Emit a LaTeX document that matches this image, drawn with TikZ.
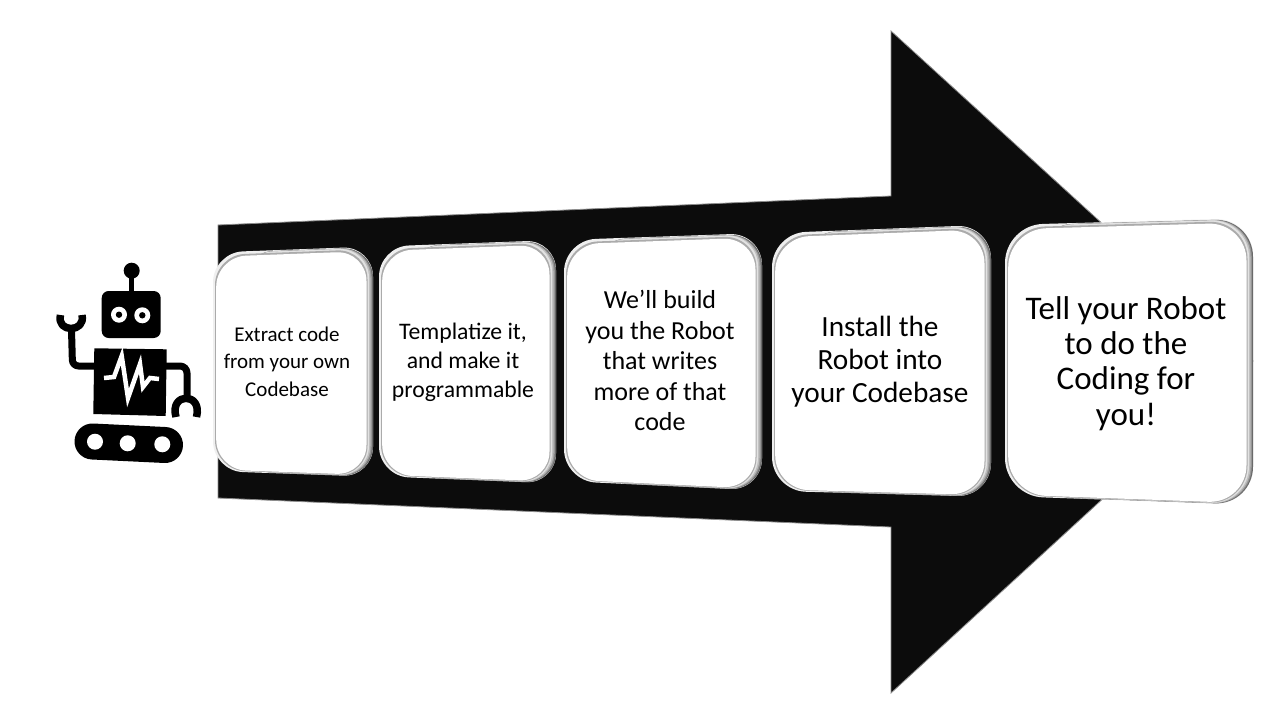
\documentclass[tikz,border=0pt]{standalone}
\usepackage{fontspec}
\setmainfont{Carlito}
\usetikzlibrary{calc}
\tikzset{
  cardtext/.style={align=center,text=black,inner sep=0pt},
  robotline/.style={draw=black,line width=7pt,line join=round},
  wheel/.style={circle,fill=white,inner sep=0pt,minimum size=16pt},
  eye/.style={circle,fill=white,draw=none,inner sep=0pt,minimum size=16pt}
}
\definecolor{arrowblack}{HTML}{0C0C0C}
% card: left x, right x, top-left y, top-right y, bottom-left y, bottom-right y, corner radius
\newcommand{\bevelcard}[7]{%
  \foreach \li/\ri/\ti/\bi/\cc in {0/0/0/0/EFEFEF, 30/0/0.8/0.3/6A6A6A, 30/1.2/1/0.5/969696, 30/2.5/1/0.6/BEBEBE, 30/4/1.2/0.7/E2E2E2, 2/5.5/2.6/0.9/ABABAB, 3.2/6.5/4.4/1.6/FFFFFF}{
    \definecolor{cardcol}{HTML}{\cc}
    \fill[cardcol,rounded corners=#7pt]
      ({#1+\li},{#3+(#4-#3)*\li/(#2-#1)+\ti}) -- ({#2-\ri},{#4-(#4-#3)*\ri/(#2-#1)+\ti}) -- ({#2-\ri},{#6-(#6-#5)*\ri/(#2-#1)-\bi}) -- ({#1+\li},{#5+(#6-#5)*\li/(#2-#1)-\bi}) -- cycle;
  }%
}
\begin{document}
\begin{tikzpicture}[x=1pt,y=-1pt]
\useasboundingbox (0,0) rectangle (1280,720);
\fill[white] (0,0) rectangle (1280,720);
% big arrow
\draw[fill=arrowblack,draw=black!45,line width=.8pt,line join=miter]
  (218,225) -- (891,196) -- (891,31) -- (1253,361) -- (891,693) -- (891,527) -- (218,498) -- cycle;
% cards
\bevelcard{213}{373}{252.5}{246.5}{471}{476.7}{30}
\bevelcard{379}{556}{246.6}{240}{476.2}{483.4}{30}
\bevelcard{564}{762}{240}{233}{481}{490.5}{32}
\bevelcard{772}{991}{233.2}{224.7}{490.8}{496.9}{34}
\bevelcard{1005}{1253}{225}{218}{496}{505}{38}
% texts
\node[cardtext,font=\fontsize{21}{27.5}\selectfont] (t1) at (287,361.5) {Extract code\\from your own\\Codebase};
\node[cardtext,font=\fontsize{23.7}{29}\selectfont] (t2) at (463,362) {Templatize it,\\and make it\\programmable};
\node[cardtext,font=\fontsize{26}{30.5}\selectfont] (t3) at (660,360.5) {We’ll build\\you the Robot\\that writes\\more of that\\code};
\node[cardtext,font=\fontsize{29.3}{33}\selectfont] (t4) at (880,362) {Install the\\Robot into\\your Codebase};
\node[cardtext,font=\fontsize{33}{35.3}\selectfont] (t5) at (1126,363.5) {Tell your Robot\\to do the\\Coding for\\you!};
% robot
\fill[black] (131.7,270.7) circle (8);
\draw[black,line width=4.5pt] (131.6,272) -- (131.6,295);
\fill[black,rounded corners=7pt] (101.7,291) rectangle (160.7,338);
\node[eye] (eyeL) at (119,314.7) {};
\node[eye] (eyeR) at (142.3,315.3) {};
\fill[black] (eyeL) circle (3.2);
\fill[black] (eyeR) circle (3.2);
\fill[black] (94.3,348.3) -- (166.7,349.3) -- (165.7,416) -- (93.3,414) -- cycle;
\draw[white,line width=4.5pt,line join=miter,miter limit=6] (104,378) -- (114,377) -- (121.7,356) -- (128,398) -- (140,364) -- (143,387) -- (150,378) -- (159,379);
% arms
\draw[robotline,rounded corners=6pt] (95,366) -- (72.5,366) -- (71.5,330);
\draw[robotline,line width=7.5pt] (60.5,315) .. controls (56,333) and (86,333) .. (82,315);
\draw[robotline,rounded corners=7pt] (166,366) -- (187,366) -- (187,398);
\draw[robotline,line width=7.5pt] (176,417) .. controls (169,392) and (203,392) .. (196.5,417);
% tread
\draw[black,line width=36pt,line cap=round] (92.5,441.5) -- (165,445);
\node[wheel] (w1) at (95,441.7) {};
\node[wheel] (w2) at (127.7,443.3) {};
\node[wheel] (w3) at (162.3,444.3) {};
\end{tikzpicture}
\end{document}
